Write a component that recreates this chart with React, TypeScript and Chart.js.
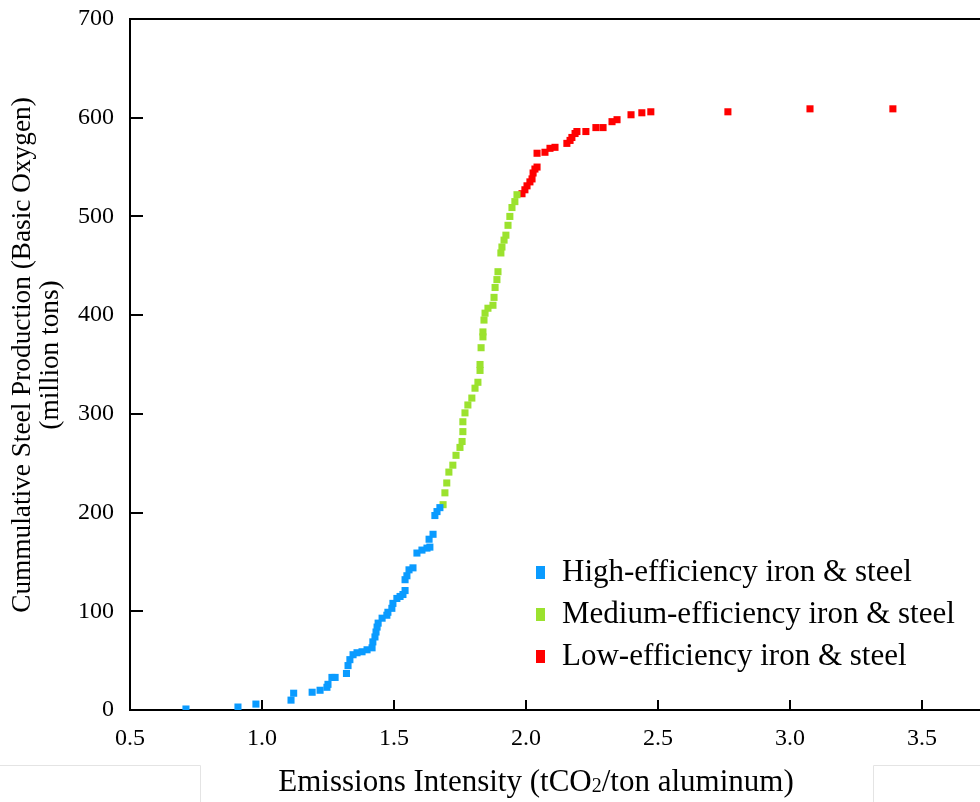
import React, { useEffect, useRef } from "react";
import { Chart, registerables } from "chart.js";

Chart.register(...registerables);

// ---- data ----
const highEff: [number, number][] = [
  [0.712, 1], [0.909, 3], [0.977, 6], [1.11, 10], [1.12, 17], [1.19, 18], [1.22, 20],
  [1.246, 23], [1.25, 26], [1.265, 33], [1.277, 33], [1.32, 37], [1.326, 45], [1.333, 51],
  [1.345, 56], [1.36, 58], [1.379, 59], [1.398, 61], [1.417, 63], [1.42, 69], [1.428, 74],
  [1.432, 79], [1.436, 84], [1.44, 88], [1.455, 93], [1.473, 96], [1.477, 99], [1.492, 103],
  [1.496, 108], [1.511, 113], [1.523, 115], [1.534, 117], [1.542, 121], [1.542, 132],
  [1.549, 136], [1.557, 142], [1.572, 144], [1.587, 159], [1.606, 162], [1.625, 164],
  [1.636, 165], [1.633, 173], [1.648, 178], [1.655, 197], [1.663, 201], [1.674, 205],
];

const mediumEff: [number, number][] = [
  [1.686, 208], [1.693, 220], [1.7, 230], [1.708, 241], [1.723, 248], [1.735, 258],
  [1.75, 266], [1.758, 272], [1.761, 282], [1.761, 292], [1.769, 301], [1.78, 309],
  [1.795, 316], [1.807, 326], [1.818, 332], [1.826, 344], [1.826, 350], [1.83, 367],
  [1.837, 378], [1.837, 383], [1.841, 395], [1.845, 402], [1.856, 407], [1.875, 410],
  [1.879, 418], [1.883, 428], [1.89, 436], [1.894, 444], [1.905, 463], [1.909, 469],
  [1.917, 476], [1.924, 481], [1.932, 491], [1.939, 500], [1.947, 509], [1.958, 515],
  [1.966, 522],
];

const lowEff: [number, number][] = [
  [1.985, 523], [1.996, 527], [2.004, 531], [2.015, 535], [2.023, 538], [2.027, 544],
  [2.034, 548], [2.042, 550], [2.042, 564], [2.072, 565], [2.091, 569], [2.11, 570],
  [2.155, 574], [2.167, 577], [2.174, 580], [2.186, 584], [2.193, 586], [2.227, 586],
  [2.265, 590], [2.292, 590], [2.326, 596], [2.345, 598], [2.398, 603], [2.439, 605],
  [2.473, 606], [2.765, 606], [3.076, 609], [3.39, 609],
];

const seriesLabels = [
  "High-efficiency iron & steel",
  "Medium-efficiency iron & steel",
  "Low-efficiency iron & steel",
];
const seriesColors = ["#0A9BFF", "#9BE22E", "#FF0000"];

const xTicks = [0.5, 1.0, 1.5, 2.0, 2.5, 3.0, 3.5];
const yTicks = [0, 100, 200, 300, 400, 500, 600, 700];

const yTitleLines = ["Cummulative Steel Production (Basic Oxygen)", "(million tons)"];
const xTitleParts = ["Emissions Intensity (tCO", "2", "/ton aluminum)"];

const SERIF = '"Liberation Serif", "Times New Roman", serif';

const decorPlugin = {
  id: "decor",
  afterDraw(chart: any) {
    const { ctx, chartArea, scales } = chart;
    const { left, right, top, bottom } = chartArea;
    ctx.save();
    ctx.strokeStyle = "#000";
    ctx.lineWidth = 2;
    // top frame line
    ctx.beginPath();
    ctx.moveTo(left - 1, top);
    ctx.lineTo(right, top);
    ctx.stroke();
    // inward ticks
    ctx.beginPath();
    for (const v of xTicks) {
      if (v === xTicks[0]) continue;
      const px = Math.round(scales.x.getPixelForValue(v));
      ctx.moveTo(px, bottom);
      ctx.lineTo(px, bottom - 10);
    }
    for (const v of yTicks) {
      if (v === yTicks[0] || v === yTicks[yTicks.length - 1]) continue;
      const py = Math.round(scales.y.getPixelForValue(v));
      ctx.moveTo(left, py);
      ctx.lineTo(left + 13, py);
    }
    ctx.stroke();

    ctx.fillStyle = "#000";
    // y title
    ctx.save();
    const cy = 355;
    ctx.translate(0, cy);
    ctx.rotate(-Math.PI / 2);
    ctx.font = `27.3px ${SERIF}`;
    ctx.textAlign = "center";
    ctx.textBaseline = "middle";
    ctx.fillText(yTitleLines[0], 0, 23);
    ctx.fillText(yTitleLines[1], 0, 51);
    ctx.restore();

    // x title with subscript
    const bigFont = `31px ${SERIF}`;
    const smallFont = `20px ${SERIF}`;
    ctx.textBaseline = "alphabetic";
    ctx.textAlign = "left";
    ctx.font = bigFont;
    const w0 = ctx.measureText(xTitleParts[0]).width;
    const w2 = ctx.measureText(xTitleParts[2]).width;
    ctx.font = smallFont;
    const w1 = ctx.measureText(xTitleParts[1]).width;
    const total = w0 + w1 + w2;
    let x = 536 - total / 2;
    const base = 791;
    ctx.font = bigFont;
    ctx.fillText(xTitleParts[0], x, base);
    x += w0;
    ctx.font = smallFont;
    ctx.fillText(xTitleParts[1], x, base + 1);
    x += w1;
    ctx.font = bigFont;
    ctx.fillText(xTitleParts[2], x, base);

    // legend
    ctx.font = `31px ${SERIF}`;
    ctx.textBaseline = "middle";
    const rows = [573, 615, 657];
    seriesLabels.forEach((lab, i) => {
      ctx.fillStyle = seriesColors[i];
      ctx.fillRect(536, rows[i] - 7, 9, 13);
      ctx.fillStyle = "#000";
      ctx.fillText(lab, 562, rows[i]);
    });

    // faint frame lines near the bottom (as in the reference)
    ctx.strokeStyle = "#e4e4e4";
    ctx.lineWidth = 1;
    ctx.beginPath();
    ctx.moveTo(0, 765.5);
    ctx.lineTo(200.5, 765.5);
    ctx.lineTo(200.5, 802);
    ctx.moveTo(980, 765.5);
    ctx.lineTo(873.5, 765.5);
    ctx.lineTo(873.5, 802);
    ctx.stroke();
    ctx.restore();
  },
};

export default function App() {
  const ref = useRef<HTMLCanvasElement | null>(null);

  useEffect(() => {
    if (!ref.current) return;
    const toPts = (arr: [number, number][]) => arr.map(([x, y]) => ({ x, y }));
    const tickFont = { family: SERIF, size: 24 };
    const chart = new Chart(ref.current, {
      type: "scatter",
      data: {
        datasets: [highEff, mediumEff, lowEff].map((arr, i) => ({
          label: seriesLabels[i],
          data: toPts(arr),
          backgroundColor: seriesColors[i],
          borderColor: seriesColors[i],
          borderWidth: 0,
          pointStyle: "rect",
          pointRadius: 5,
          pointHoverRadius: 5,
        })),
      },
      options: {
        animation: false,
        responsive: false,
        maintainAspectRatio: false,
        events: [],
        layout: { autoPadding: false, padding: { top: 19, left: 0, right: 0, bottom: 0 } },
        plugins: {
          legend: { display: false },
          tooltip: { enabled: false },
          title: { display: false },
        },
        scales: {
          x: {
            type: "linear",
            min: 0.5,
            max: 3.72,
            afterBuildTicks: (s: any) => {
              s.ticks = xTicks.map((v) => ({ value: v }));
            },
            afterFit: (s: any) => {
              s.height = 92;
              s.paddingLeft = 0;
              s.paddingRight = 0;
            },
            grid: { display: true, drawOnChartArea: false, drawTicks: false },
            border: { display: true, color: "#000", width: 2 },
            ticks: {
              padding: 14,
              color: "#000",
              font: tickFont,
              maxRotation: 0,
              autoSkip: false,
              callback: (v: any) => Number(v).toFixed(1),
            },
          },
          y: {
            type: "linear",
            min: 0,
            max: 700,
            afterBuildTicks: (s: any) => {
              s.ticks = yTicks.map((v) => ({ value: v }));
            },
            afterFit: (s: any) => {
              s.width = 130;
              s.paddingTop = 0;
              s.paddingBottom = 0;
            },
            grid: { display: true, drawOnChartArea: false, drawTicks: false },
            border: { display: true, color: "#000", width: 2 },
            ticks: {
              padding: 16,
              color: "#000",
              font: tickFont,
              autoSkip: false,
              callback: (v: any) => String(v),
            },
          },
        },
      },
      plugins: [decorPlugin],
    } as any);
    return () => chart.destroy();
  }, []);

  return (
    <div style={{ position: "absolute", left: 0, top: 0, width: 980, height: 802, background: "#fff" }}>
      <canvas ref={ref} width={980} height={802} style={{ display: "block" }} />
    </div>
  );
}
